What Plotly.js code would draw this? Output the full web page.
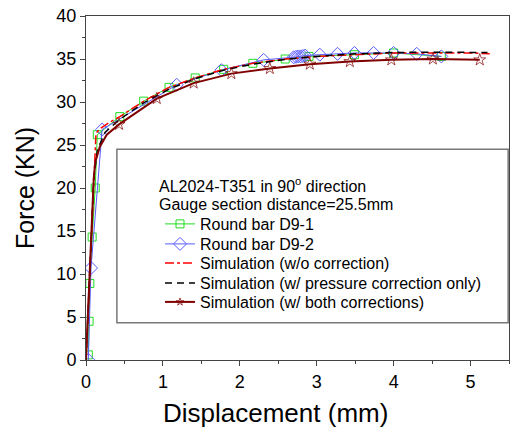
<!DOCTYPE html>
<html>
<head>
<meta charset="utf-8">
<script src="https://cdn.plot.ly/plotly-3.0.1.min.js"></script>
<style>html,body{margin:0;padding:0;background:#fff;}#chart{width:510px;height:429px;}</style>
</head>
<body>
<div id="chart"></div>
<script>
// Round bar D9-1 (green squares)
const d91X = [0.03, 0.04, 0.05, 0.08, 0.12, 0.147, 0.44, 0.75, 1.08, 1.42, 1.79, 2.17, 2.59, 2.9, 3.49, 4.0, 4.62];
const d91Y = [0.6, 4.5, 8.9, 14.3, 20.0, 26.2, 28.3, 30.1, 31.7, 32.8, 33.8, 34.5, 35.0, 35.3, 35.5, 35.7, 35.3];
// Round bar D9-2 (blue diamonds)
const d92X = [0.03, 0.065, 0.21, 1.18, 1.76, 2.31, 2.7, 2.73, 2.76, 2.79, 2.82, 2.85, 3.04, 3.27, 3.49, 3.74, 4.0, 4.3, 4.62];
const d92Y = [0.0, 10.7, 26.8, 32.0, 33.7, 34.9, 35.2, 35.25, 35.3, 35.3, 35.35, 35.4, 35.5, 35.6, 35.7, 35.7, 35.7, 35.6, 35.3];
// Simulation (w/o correction)
const simAX = [0, 0.05, 0.1, 0.13, 0.2, 0.3, 0.44, 0.75, 1.08, 1.42, 1.79, 2.17, 2.59, 3.0, 3.5, 4.0, 4.5, 5.0, 5.25];
const simAY = [0, 10, 20, 26.4, 27.0, 27.6, 28.3, 30.1, 31.7, 32.8, 33.8, 34.5, 35.0, 35.3, 35.5, 35.7, 35.7, 35.7, 35.6];
// Simulation (w/ pressure correction only)
const simBX = [0, 0.05, 0.1, 0.15, 0.25, 0.44, 0.75, 1.08, 1.42, 1.79, 2.17, 2.59, 3.0, 3.5, 4.0, 4.5, 5.0, 5.22];
const simBY = [0, 10, 21, 24.5, 26.5, 28.0, 29.9, 31.5, 32.7, 33.7, 34.4, 34.95, 35.3, 35.6, 35.75, 35.8, 35.8, 35.75];
// Simulation (w/ both corrections)
const simCX = [0, 0.05, 0.1, 0.12, 0.18, 0.27, 0.43, 0.92, 1.40, 1.89, 2.39, 2.91, 3.43, 3.97, 4.51, 5.12];
const simCY = [0, 10, 21, 23, 24.8, 26.2, 27.4, 30.4, 32.2, 33.3, 33.9, 34.4, 34.7, 34.9, 35.0, 34.9];

const xTicks = [0, 1, 2, 3, 4, 5];
const yTicks = [0, 5, 10, 15, 20, 25, 30, 35, 40];

const font = 'Liberation Sans, Arial, sans-serif';

const traces = [
  {x: d91X, y: d91Y, name: 'Round bar D9-1', mode: 'lines+markers', legend: 'legend',
   line: {color: '#22dd22', width: 1},
   marker: {symbol: 'square-open', size: 8, color: '#22dd22', line: {width: 1}}},
  {x: d92X, y: d92Y, name: 'Round bar D9-2', mode: 'lines+markers', legend: 'legend2',
   line: {color: '#5a5aff', width: 1},
   marker: {symbol: 'diamond-open', size: 10, color: '#5a5aff', line: {width: 1}}},
  {x: simAX, y: simAY, name: 'Simulation (w/o correction)', mode: 'lines', legend: 'legend3',
   line: {color: '#ff0000', width: 1.5, dash: 'dashdot'}},
  {x: simBX, y: simBY, name: 'Simulation (w/ pressure correction only)', mode: 'lines', legend: 'legend4',
   line: {color: '#000000', width: 1.5, dash: '7px,5px'}},
  {x: simCX, y: simCY, name: 'Simulation (w/ both corrections)', mode: 'lines+markers', legend: 'legend5',
   line: {color: '#800000', width: 2},
   marker: {symbol: 'star-open', size: simCX.map(v => v > 0.35 ? 9 : 0), color: '#800000', line: {width: 1}}}
];

// legend rows: pixel centre y -> paper y
const plotTop = 16, plotH = 344, plotL = 86, plotW = 423;
const py = px => (plotTop + plotH - px) / plotH;
const lg = yc => ({x: (160 - plotL) / plotW, y: py(yc), xanchor: 'left', yanchor: 'middle',
  font: {family: font, size: 16, color: '#000'}, bgcolor: 'rgba(0,0,0,0)', borderwidth: 0, itemwidth: 30});

const layout = {
  width: 510, height: 429,
  margin: {l: 86, r: 1, t: 16, b: 69},
  paper_bgcolor: '#fff', plot_bgcolor: '#fff',
  font: {family: font, color: '#000'},
  showlegend: true,
  legend: lg(224), legend2: lg(244), legend3: lg(263), legend4: lg(283), legend5: lg(302),
  xaxis: {range: [0, 5.5], tickvals: xTicks, ticks: 'outside', ticklen: 5, tickcolor: '#444',
          showgrid: false, zeroline: false, showline: true, mirror: true, linecolor: '#444', linewidth: 1,
          tickfont: {size: 18, family: font},
          minor: {dtick: 0.5, ticks: 'outside', ticklen: 3, tickcolor: '#444', showgrid: false}},
  yaxis: {range: [0, 40], tickvals: yTicks, ticks: 'outside', ticklen: 5, tickcolor: '#444',
          showgrid: false, zeroline: false, showline: true, mirror: true, linecolor: '#444', linewidth: 1,
          tickfont: {size: 18, family: font},
          minor: {dtick: 2.5, ticks: 'outside', ticklen: 3, tickcolor: '#444', showgrid: false},
          title: {text: 'Force (KN)', font: {size: 25, family: font}, standoff: 14}},
  shapes: [{type: 'rect', xref: 'paper', yref: 'paper', x0: 0.073, x1: 0.998, y0: 0.108, y1: 0.613,
            line: {color: '#777', width: 1.5}, fillcolor: 'rgba(0,0,0,0)', layer: 'below'}],
  annotations: [
    {xref: 'paper', yref: 'paper', x: (157 - plotL) / plotW, y: py(185), xanchor: 'left', yanchor: 'middle', showarrow: false,
     text: 'AL2024-T351 in 90<sup>o</sup> direction', font: {size: 16, family: font, color: '#000'}},
    {xref: 'paper', yref: 'paper', x: (157 - plotL) / plotW, y: py(204), xanchor: 'left', yanchor: 'middle', showarrow: false,
     text: 'Gauge section distance=25.5mm', font: {size: 16, family: font, color: '#000'}},
    {xref: 'paper', yref: 'paper', x: (275 - plotL) / plotW, y: py(413), xanchor: 'center', yanchor: 'middle', showarrow: false,
     text: 'Displacement (mm)', font: {size: 26, family: font, color: '#000'}}
  ]
};

Plotly.newPlot('chart', traces, layout, {displayModeBar: false, staticPlot: true});
</script>
</body>
</html>
